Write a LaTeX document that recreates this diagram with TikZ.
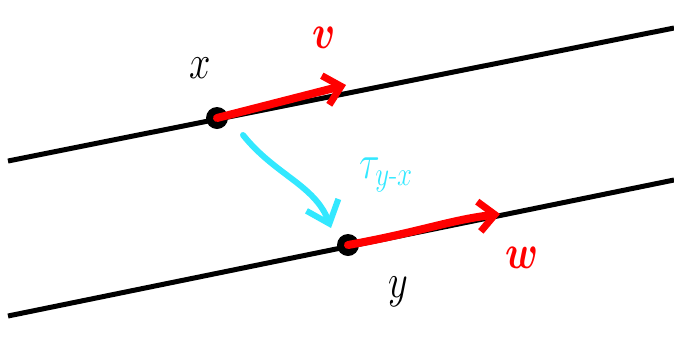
\documentclass[tikz,border=0pt]{standalone}
\usepackage{fix-cm}
\usepackage{amsmath}
\usepackage{bm}
\usetikzlibrary{arrows.meta}
\definecolor{tcyan}{HTML}{33E8FF}
\definecolor{tred}{HTML}{FF0000}
\begin{document}
\begin{tikzpicture}[x=1pt,y=-1pt,
  fiber/.style={line width=5pt,black},
  vec/.style={line width=8pt,tred,line cap=round,-{Straight Barb[length=16pt,width=30pt,line width=7pt]}},
  transport/.style={line width=6pt,tcyan,line cap=round,-{Straight Barb[length=20pt,width=34pt,line width=6pt]}},
  dotpt/.style={circle,fill=black,inner sep=0pt,minimum size=22pt},
  lbl/.style={inner sep=0pt,font=\fontsize{24}{28}\selectfont,transform shape,xscale=1.6,yscale=2.0}]
\useasboundingbox (0,0) rectangle (674,341);
\coordinate (A1) at (8,161);
\coordinate (A2) at (674,28);
\coordinate (B1) at (8,316);
\coordinate (B2) at (674,180);
\draw[fiber] (A1) -- (A2);
\draw[fiber] (B1) -- (B2);
\node[dotpt] (X) at (217,118) {};
\node[dotpt] (Y) at (348,245) {};
\coordinate (V) at (346,85);
\coordinate (W) at (500,214);
\coordinate (T) at (331,228);
\draw[vec] (X.center) -- (V);
\draw[vec] (Y.center) .. controls (420,232) and (450,220) .. (W);
\draw[transport] (243,135) .. controls (275,175) and (315,185) .. (T);
\node[lbl] (lx) at (200,68) {$x$};
\node[lbl,text=tred] (lv) at (324,38) {$\bm{v}$};
\node[lbl,text=tcyan] (lt) at (386,175) {$\tau_{y\text{-}x}$};
\node[lbl] (ly) at (398,292) {$y$};
\node[lbl,text=tred] (lw) at (522,258) {$\bm{w}$};
\end{tikzpicture}
\end{document}
